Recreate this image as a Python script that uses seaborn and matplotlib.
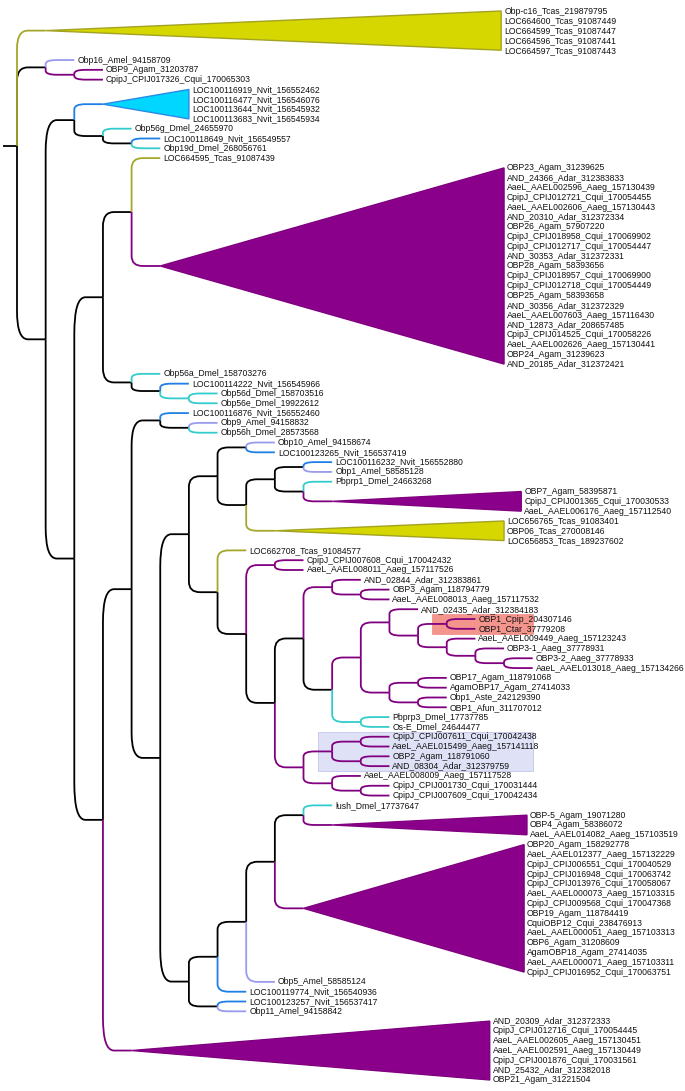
import matplotlib
matplotlib.use("Agg")
import matplotlib.pyplot as plt
from matplotlib.path import Path
from matplotlib.patches import PathPatch, Polygon, Rectangle
import seaborn as sns

# ------------------------------------------------------------------ data
tcas_c16 = ["Obp-c16_Tcas_219879795", "LOC664600_Tcas_91087449", "LOC664599_Tcas_91087447",
            "LOC664596_Tcas_91087441", "LOC664597_Tcas_91087443"]
nvit_clade = ["LOC100116919_Nvit_156552462", "LOC100116477_Nvit_156546076",
              "LOC100113644_Nvit_156545932", "LOC100113683_Nvit_156545934"]
mosq_a = ["OBP23_Agam_31239625", "AND_24366_Adar_312383833", "AaeL_AAEL002596_Aaeg_157130439",
          "CpipJ_CPIJ012721_Cqui_170054455", "AaeL_AAEL002606_Aaeg_157130443", "AND_20310_Adar_312372334",
          "OBP26_Agam_57907220", "CpipJ_CPIJ018958_Cqui_170069902", "CpipJ_CPIJ012717_Cqui_170054447",
          "AND_30353_Adar_312372331", "OBP28_Agam_58393656", "CpipJ_CPIJ018957_Cqui_170069900",
          "CpipJ_CPIJ012718_Cqui_170054449", "OBP25_Agam_58393658", "AND_30356_Adar_312372329",
          "AaeL_AAEL007603_Aaeg_157116430", "AND_12873_Adar_208657485", "CpipJ_CPIJ014525_Cqui_170058226",
          "AaeL_AAEL002626_Aaeg_157130441", "OBP24_Agam_31239623", "AND_20185_Adar_312372421"]
mosq_b = ["OBP7_Agam_58395871", "CpipJ_CPIJ001365_Cqui_170030533", "AaeL_AAEL006176_Aaeg_157112540"]
tcas_b = ["LOC656765_Tcas_91083401", "OBP06_Tcas_270008146", "LOC656853_Tcas_189237602"]
mosq_c = ["OBP-5_Agam_19071280", "OBP4_Agam_58386072", "AaeL_AAEL014082_Aaeg_157103519"]
mosq_d = ["OBP20_Agam_158292778", "AaeL_AAEL012377_Aaeg_157132229", "CpipJ_CPIJ006551_Cqui_170040529",
          "CpipJ_CPIJ016948_Cqui_170063742", "CpipJ_CPIJ013976_Cqui_170058067", "AaeL_AAEL000073_Aaeg_157103315",
          "CpipJ_CPIJ009568_Cqui_170047368", "OBP19_Agam_118784419", "CquiOBP12_Cqui_238476913",
          "AaeL_AAEL000051_Aaeg_157103313", "OBP6_Agam_31208609", "AgamOBP18_Agam_27414035",
          "AaeL_AAEL000071_Aaeg_157103311", "CpipJ_CPIJ016952_Cqui_170063751"]
mosq_e = ["AND_20309_Adar_312372333", "CpipJ_CPIJ012716_Cqui_170054445", "AaeL_AAEL002605_Aaeg_157130451",
          "AaeL_AAEL002591_Aaeg_157130449", "CpipJ_CPIJ001876_Cqui_170031561", "AND_25432_Adar_312382018",
          "OBP21_Agam_31221504"]

clades = {"tcas_c16": tcas_c16, "nvit": nvit_clade, "mosq_a": mosq_a, "mosq_b": mosq_b,
          "tcas_b": tcas_b, "mosq_c": mosq_c, "mosq_d": mosq_d, "mosq_e": mosq_e}
# depth (in branch levels from the root) reached by each collapsed clade
clade_depth = {"tcas_c16": 16.9, "nvit": 6.0, "mosq_a": 17.0, "mosq_b": 17.6,
               "tcas_b": 17.0, "mosq_c": 17.8, "mosq_d": 17.7, "mosq_e": 16.5}

species_group = {"Tcas": "tcas", "Amel": "amel", "Nvit": "nvit", "Dmel": "dmel",
                 "Agam": "mosq", "Aaeg": "mosq", "Cqui": "mosq", "Adar": "mosq",
                 "Cpip": "mosq", "Ctar": "mosq", "Aste": "mosq", "Afun": "mosq"}

tree = (
    "#tcas_c16",
    ("Obp16_Amel_94158709", ("OBP9_Agam_31203787", "CpipJ_CPIJ017326_Cqui_170065303")),
    (
        ("#nvit", ("Obp56g_Dmel_24655970", ("LOC100118649_Nvit_156549557", "Obp19d_Dmel_268056761"))),
        (
            (("LOC664595_Tcas_91087439", "#mosq_a"),
             ("Obp56a_Dmel_158703276", ("LOC100114222_Nvit_156545966",
                                        ("Obp56d_Dmel_158703516", "Obp56e_Dmel_19922612")))),
            (
                (
                    ("LOC100116876_Nvit_156552460", ("Obp9_Amel_94158832", "Obp56h_Dmel_28573568")),
                    (
                        (
                            (("Obp10_Amel_94158674", "LOC100123265_Nvit_156537419"),
                             ((("LOC100116232_Nvit_156552880", "Obp1_Amel_58585128"),
                               ("Pbprp1_Dmel_24663268", "#mosq_b")),
                              "#tcas_b")),
                            ("LOC662708_Tcas_91084577",
                             (("CpipJ_CPIJ007608_Cqui_170042432", "AaeL_AAEL008011_Aaeg_157117526"),
                              (
                                  (("AND_02844_Adar_312383861",
                                    ("OBP3_Agam_118794779", "AaeL_AAEL008013_Aaeg_157117532")),
                                   ((("AND_02435_Adar_312384183",
                                      (("OBP1_Cpip_204307146", "OBP1_Ctar_37779208"),
                                       ("AaeL_AAEL009449_Aaeg_157123243",
                                        ("OBP3-1_Aaeg_37778931",
                                         ("OBP3-2_Aaeg_37778933", "AaeL_AAEL013018_Aaeg_157134266"))))),
                                     (("OBP17_Agam_118791068", "AgamOBP17_Agam_27414033"),
                                      ("Obp1_Aste_242129390", "OBP1_Afun_311707012"))),
                                    ("Pbprp3_Dmel_17737785", "Os-E_Dmel_24644477"))),
                                  ((("CpipJ_CPIJ007611_Cqui_170042438", "AaeL_AAEL015499_Aaeg_157141118"),
                                    ("OBP2_Agam_118791060", "AND_08304_Adar_312379759")),
                                   ("AaeL_AAEL008009_Aaeg_157117528",
                                    ("CpipJ_CPIJ001730_Cqui_170031444", "CpipJ_CPIJ007609_Cqui_170042434")))
                              )))
                        ),
                        (
                            (((("lush_Dmel_17737647", "#mosq_c"), "#mosq_d"), "Obp5_Amel_58585124"),
                             "LOC100119774_Nvit_156540936"),
                            ("LOC100123257_Nvit_156537417", "Obp11_Amel_94158842")
                        )
                    )
                ),
                "#mosq_e"
            )
        )
    )
)

highlight_red = ["OBP1_Cpip_204307146", "OBP1_Ctar_37779208"]
highlight_blue = ["CpipJ_CPIJ007611_Cqui_170042438", "AaeL_AAEL015499_Aaeg_157141118",
                  "OBP2_Agam_118791060", "AND_08304_Adar_312379759"]

# ------------------------------------------------------------------ style
LINE = {"tcas": "#a6a62a", "amel": "#9a9aee", "nvit": "#1f7fe6", "dmel": "#33cccc",
        "mosq": "#800080", None: "#000000"}
FILL = {"tcas": "#d6d600", "nvit": "#00d6ff", "mosq": "#8a008a"}
TRI_EDGE = {"tcas": "#a3a322", "nvit": "#2a8ae8", "mosq": "#800080"}

X0, U = 17.0, 28.65      # pixel position of root, pixels per branch level
Y0, DY = 11.0, 9.807     # first row, row spacing
LW = 1.3
FONT = ["Liberation Sans", "DejaVu Sans"]
FS = 6.2

sns.set_theme(style="white")
plt.rcParams["font.family"] = FONT

# ------------------------------------------------------------------ layout
edges, tris, tips = [], [], []
node_x = {}
row = [0]


def group_of(label):
    return species_group[label.split("_")[-2]]


def visit(node, depth):
    x = X0 + U * depth
    if isinstance(node, str) and node.startswith("#"):
        name = node[1:]
        labels = clades[name]
        ys = [Y0 + DY * (row[0] + i) for i in range(len(labels))]
        row[0] += len(labels)
        xr = X0 + U * clade_depth[name]
        g = group_of(labels[0])
        tris.append((x, (ys[0] + ys[-1]) / 2, xr, ys[0], ys[-1], g))
        for lab, yy in zip(labels, ys):
            tips.append((xr + 3, yy, lab))
        return (ys[0] + ys[-1]) / 2, g, list(labels)
    if isinstance(node, str):
        y = Y0 + DY * row[0]
        row[0] += 1
        tips.append((x + 3, y, node))
        return y, group_of(node), [node]
    info = [visit(c, depth + 1) for c in node]
    y = sum(i[0] for i in info) / len(info)
    gs = set(i[1] for i in info)
    g = gs.pop() if len(gs) == 1 else None
    for cy, cg, _ in info:
        edges.append((x, y, x + U, cy, cg))
    labels = [l for i in info for l in i[2]]
    node_x[tuple(labels)] = x
    return y, g, labels


root_y, _, _ = visit(tree, 0)


def branch_path(x0, y0, x1, y1):
    dy = y1 - y0
    if abs(dy) < 0.5:
        return Path([(x0, y0), (x1, y1)], [Path.MOVETO, Path.LINETO])
    s = 1 if dy > 0 else -1
    ry = min(abs(dy), 3.0 + 0.13 * abs(dy))
    rx = min(0.4 * (x1 - x0), 11.0)
    verts = [(x0, y0), (x0, y1 - s * ry), (x0, y1), (x0 + rx, y1), (x1, y1)]
    codes = [Path.MOVETO, Path.LINETO, Path.CURVE3, Path.CURVE3, Path.LINETO]
    return Path(verts, codes)


# ------------------------------------------------------------------ draw
fig = plt.figure(figsize=(6.85, 10.91), dpi=100)
ax = fig.add_axes([0, 0, 1, 1])
ax.set_xlim(0, 685)
ax.set_ylim(1091, 0)
ax.axis("off")

max_x = X0 + U * 18
for labs, col, ec in [(highlight_red, "#f3948d", "#f3948d"), (highlight_blue, "#dfe1f7", "#c3c6ea")]:
    nx = node_x[tuple(labs)]
    ys = [t[1] for t in tips if t[2] in labs]
    ax.add_patch(Rectangle((nx - U / 2, min(ys) - DY / 2), max_x - (nx - U / 2),
                           max(ys) - min(ys) + DY, facecolor=col, edgecolor=ec, lw=0.6, zorder=0))

# root stub
ax.add_patch(PathPatch(Path([(3, root_y), (X0, root_y)]), fill=False, ec="black", lw=LW, zorder=1))

for (x0, y0, x1, y1, g) in sorted(edges, key=lambda e: e[4] is not None):
    ax.add_patch(PathPatch(branch_path(x0, y0, x1, y1), fill=False, ec=LINE[g], lw=LW,
                           capstyle="butt", joinstyle="round", zorder=2 if g else 1))

for (xa, ya, xr, yt, yb, g) in tris:
    ax.add_patch(Polygon([(xa, ya), (xr, yt), (xr, yb)], closed=True, facecolor=FILL[g],
                         edgecolor=TRI_EDGE[g], lw=1.0, zorder=3))

for (x, y, lab) in tips:
    ax.text(x, y, lab, fontsize=FS, family=FONT, color="#111111", ha="left", va="center", zorder=4)

fig.savefig("out.png", dpi=100, facecolor="white")
